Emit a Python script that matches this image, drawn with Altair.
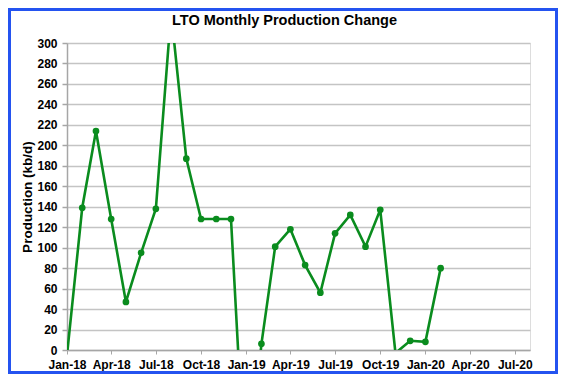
import altair as alt
import pandas as pd

months = ["2018-01-01", "2018-02-01", "2018-03-01", "2018-04-01", "2018-05-01", "2018-06-01",
          "2018-07-01", "2018-08-01", "2018-09-01", "2018-10-01", "2018-11-01", "2018-12-01",
          "2019-01-01", "2019-02-01", "2019-03-01", "2019-04-01", "2019-05-01", "2019-06-01",
          "2019-07-01", "2019-08-01", "2019-09-01", "2019-10-01", "2019-11-01", "2019-12-01",
          "2020-01-01", "2020-02-01"]
change = [-5, 139, 214, 128, 47, 95, 138, 330, 187, 128, 128, 128,
          -146, 6, 101, 118, 83, 56, 114, 132, 101, 137, -3, 9, 8, 80]
tick_dates = ["2018-01-01", "2018-04-01", "2018-07-01", "2018-10-01", "2019-01-01", "2019-04-01",
              "2019-07-01", "2019-10-01", "2020-01-01", "2020-04-01", "2020-07-01"]
y_ticks = list(range(0, 301, 20))
title_text = "LTO Monthly Production Change"

df = pd.DataFrame({"month": pd.to_datetime(months), "change": change})

W, H = 463, 307
PL, PT = 59, 35
SVG_W, SVG_H = 550, 366
GREEN = "#0A8C1E"

x = alt.X("month:T",
          scale=alt.Scale(domain=["2018-01-01", "2020-08-01"]),
          axis=alt.Axis(values=[pd.Timestamp(d).isoformat() for d in tick_dates],
                        format="%b-%y", title=None, grid=False,
                        labelFont="Liberation Sans", labelFontSize=12, labelFontWeight="bold",
                        labelColor="black", domainColor="#A6A6A6", domainWidth=1.5,
                        tickColor="#A6A6A6", tickSize=4, labelPadding=5, labelFlush=False))
y = alt.Y("change:Q",
          scale=alt.Scale(domain=[0, 300], nice=False, zero=False),
          axis=alt.Axis(values=y_ticks, title="Production (kb/d)",
                        titleFont="Liberation Sans", titleFontSize=13.5, titleFontWeight="bold",
                        titleColor="black", titleX=-40, titleY=H / 2,
                        titleAngle=-90, titleAlign="center", titleBaseline="middle",
                        labelFont="Liberation Sans", labelFontSize=12, labelFontWeight="bold",
                        labelColor="black", grid=True, gridColor="#C4C4C4", gridWidth=1.6,
                        domainColor="#A6A6A6", domainWidth=1.5,
                        tickColor="#A6A6A6", tickSize=5, tickWidth=1.5, labelPadding=5))

line = alt.Chart(df).mark_line(color=GREEN, strokeWidth=2.6, clip=True).encode(x=x, y=y)
pts = alt.Chart(df).transform_filter(
    (alt.datum.change >= 0) & (alt.datum.change <= 300)
).mark_point(filled=True, color=GREEN, size=45, opacity=1, clip=True).encode(x=x, y=y)

one = pd.DataFrame({"t": [title_text]})
border = alt.Chart(one).mark_rect(
    fill=None, stroke="#2453F0", strokeWidth=3, clip=False
).encode(
    x=alt.value(-PL + 1.5), x2=alt.value(SVG_W - PL - 1.5),
    y=alt.value(-PT + 1.5), y2=alt.value(SVG_H - PT - 1.5)
)
title = alt.Chart(one).mark_text(
    font="Liberation Sans", fontSize=14.5, fontWeight="bold", color="black",
    align="center", baseline="middle", clip=False
).encode(text="t:N", x=alt.value(W / 2 - 14), y=alt.value(-22))

chart = alt.layer(line, pts, border, title).properties(
    width=W, height=H,
    autosize=alt.AutoSizeParams(type="none"),
    padding={"left": PL, "top": PT, "right": SVG_W - PL - W, "bottom": SVG_H - PT - H},
).configure_view(stroke=None).configure(background="white")

chart.save("out.html", embed_options={"renderer": "svg", "actions": False})
